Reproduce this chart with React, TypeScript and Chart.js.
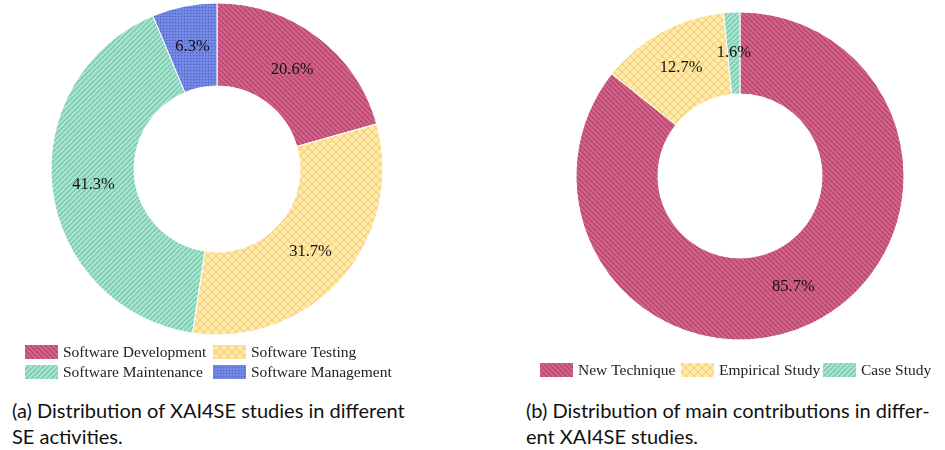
import React, { useEffect, useRef } from "react";
import { Chart, registerables } from "chart.js";

Chart.register(...registerables);

// ---- data ----
const activityLabels = ["Software Development", "Software Testing", "Software Maintenance", "Software Management"];
const activityValues = [20.6, 31.7, 41.3, 6.3];
const activityPatterns = ["back", "cross", "fwd", "dots"];

const contributionLabels = ["New Technique", "Empirical Study", "Case Study"];
const contributionValues = [85.7, 12.7, 1.6];
const contributionPatterns = ["back", "cross", "fwd"];

const captionA = ["(a) Distribution of XAI4SE studies in different", "SE activities."];
const captionB = ["(b) Distribution of main contributions in differ-", "ent XAI4SE studies."];

// ---- patterns ----
const PALETTE: Record<string, { bg: string; fg: string }> = {
  back: { bg: "#d2648b", fg: "#b03f69" },
  cross: { bg: "#ffeab0", fg: "#f4cf74" },
  fwd: { bg: "#a8e4ce", fg: "#70c2a8" },
  dots: { bg: "#7389e3", fg: "#4a60c8" },
};

function makePattern(kind: string): CanvasPattern | string {
  const { bg, fg } = PALETTE[kind];
  const c = document.createElement("canvas");
  const s = kind === "cross" ? 8 : kind === "dots" ? 3 : 5;
  c.width = s;
  c.height = s;
  const ctx = c.getContext("2d");
  if (!ctx) return bg;
  ctx.fillStyle = bg;
  ctx.fillRect(0, 0, s, s);
  ctx.strokeStyle = fg;
  ctx.fillStyle = fg;
  ctx.lineWidth = 1.1;
  const line = (x1: number, y1: number, x2: number, y2: number) => {
    ctx.beginPath();
    ctx.moveTo(x1, y1);
    ctx.lineTo(x2, y2);
    ctx.stroke();
  };
  if (kind === "back" || kind === "cross") {
    line(-1, -1, s + 1, s + 1);
    line(-s - 1, -1, 1, s + 1);
    line(s - 1, -1, 2 * s + 1, s + 1);
  }
  if (kind === "fwd" || kind === "cross") {
    line(-1, s + 1, s + 1, -1);
    line(-1, 1, 1, -1);
    line(s - 1, s + 1, s + 1, s - 1);
  }
  if (kind === "dots") {
    ctx.fillRect(1, 1, 1.2, 1.2);
  }
  const p = ctx.createPattern(c, "repeat");
  return p || bg;
}

// ---- plugins ----
const valueLabelPlugin = {
  id: "valueLabels",
  afterDatasetsDraw(chart: any) {
    const ctx = chart.ctx;
    const meta = chart.getDatasetMeta(0);
    const data = chart.data.datasets[0].data as number[];
    ctx.save();
    ctx.font = '16.5px "Liberation Serif", "Times New Roman", serif';
    ctx.fillStyle = "#111";
    ctx.textAlign = "center";
    ctx.textBaseline = "middle";
    meta.data.forEach((arc: any, i: number) => {
      const pos = arc.tooltipPosition();
      ctx.fillText(`${data[i].toFixed(1)}%`, pos.x, pos.y);
    });
    ctx.restore();
  },
};

const gridLegendPlugin = {
  id: "gridLegend",
  afterDraw(chart: any, _args: any, opts: any) {
    const ctx = chart.ctx;
    const labels = chart.data.labels as string[];
    const bgs = chart.data.datasets[0].backgroundColor as any[];
    const positions = opts.positions as { x: number; y: number }[];
    ctx.save();
    ctx.font = '15.5px "Liberation Serif", "Times New Roman", serif';
    ctx.textAlign = "left";
    ctx.textBaseline = "middle";
    labels.forEach((lab, i) => {
      const p = positions[i];
      if (!p) return;
      ctx.fillStyle = bgs[i];
      ctx.fillRect(p.x, p.y, 33, 14);
      ctx.fillStyle = "#222";
      ctx.fillText(lab, p.x + 38, p.y + 7.5);
    });
    ctx.restore();
  },
};

function Donut(props: {
  labels: string[];
  values: number[];
  patterns: string[];
  width: number;
  height: number;
  radius: number;
  padding: { left: number; right: number; top: number; bottom: number };
  legendPositions: { x: number; y: number }[];
}) {
  const ref = useRef<HTMLCanvasElement | null>(null);
  useEffect(() => {
    if (!ref.current) return;
    const chart = new Chart(ref.current, {
      type: "doughnut",
      data: {
        labels: props.labels,
        datasets: [
          {
            data: props.values,
            backgroundColor: props.patterns.map(makePattern) as any,
            borderColor: "#ffffff",
            borderWidth: 1,
          },
        ],
      },
      options: {
        responsive: false,
        animation: false,
        events: [],
        radius: props.radius,
        cutout: "50%",
        layout: { padding: props.padding },
        plugins: {
          legend: { display: false },
          tooltip: { enabled: false },
          gridLegend: { positions: props.legendPositions },
        } as any,
      },
      plugins: [valueLabelPlugin, gridLegendPlugin],
    });
    return () => chart.destroy();
  }, []);
  return <canvas ref={ref} width={props.width} height={props.height} style={{ display: "block" }} />;
}

const captionStyle: React.CSSProperties = {
  position: "absolute",
  fontFamily: "Lato, 'Open Sans', sans-serif",
  fontSize: 20,
  lineHeight: "26px",
  color: "#111",
  whiteSpace: "nowrap",
};

export default function App() {
  return (
    <div style={{ position: "absolute", left: 0, top: 0, width: 945, height: 450, background: "#fff" }}>
      <div style={{ position: "absolute", left: 0, top: 0 }}>
        <Donut
          labels={activityLabels}
          values={activityValues}
          patterns={activityPatterns}
          width={470}
          height={390}
          radius={166}
          padding={{ left: 51, right: 87, top: 3, bottom: 55 }}
          legendPositions={[
            { x: 25, y: 345 },
            { x: 213, y: 345 },
            { x: 25, y: 365 },
            { x: 213, y: 365 },
          ]}
        />
      </div>
      <div style={{ position: "absolute", left: 470, top: 0 }}>
        <Donut
          labels={contributionLabels}
          values={contributionValues}
          patterns={contributionPatterns}
          width={475}
          height={390}
          radius={164}
          padding={{ left: 106, right: 41, top: 12, bottom: 50 }}
          legendPositions={[
            { x: 70, y: 363 },
            { x: 211, y: 363 },
            { x: 353, y: 363 },
          ]}
        />
      </div>
      <div style={{ ...captionStyle, left: 12, top: 397 }}>
        {captionA[0]}
        <br />
        {captionA[1]}
      </div>
      <div style={{ ...captionStyle, left: 526, top: 397 }}>
        {captionB[0]}
        <br />
        {captionB[1]}
      </div>
    </div>
  );
}
